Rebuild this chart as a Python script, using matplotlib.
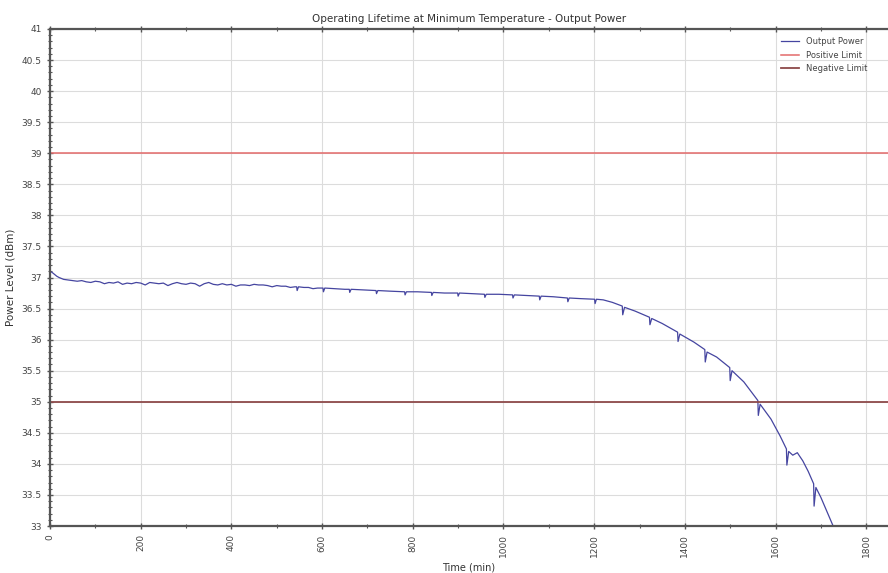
import matplotlib
matplotlib.use("Agg")
import matplotlib.pyplot as plt
from matplotlib.ticker import MultipleLocator

time_min = [
    0, 5, 10, 15, 20, 30, 40, 50, 60, 70, 80, 90, 100, 110, 120, 130, 140, 150,
    160, 170, 180, 190, 200, 210, 220, 230, 240, 250, 260, 270, 280, 290, 300,
    310, 320, 330, 340, 350, 360, 370, 380, 390, 400, 410, 420, 430, 440, 450,
    460, 470, 480, 490, 500, 510, 520, 530, 540, 544, 545, 548, 560, 570, 580,
    590, 602, 603, 606, 630, 650, 660, 661, 664, 690, 719, 720, 723, 750, 782,
    783, 786, 810, 841, 842, 845, 870, 899, 900, 903, 930, 958, 959, 962, 990,
    1020, 1021, 1024, 1050, 1079, 1080, 1083, 1110, 1141, 1142, 1145, 1170,
    1201, 1202, 1205, 1220, 1240, 1262, 1263, 1267, 1290, 1322, 1323, 1327,
    1350, 1384, 1385, 1389, 1420, 1444, 1445, 1449, 1470, 1499, 1500, 1504,
    1530, 1561, 1562, 1566, 1590, 1610, 1624, 1625, 1629, 1638, 1648, 1660,
    1672, 1684, 1685, 1689, 1700, 1714, 1727, 1735,
]
output_power = [
    37.10, 37.08, 37.05, 37.02, 37.00, 36.97, 36.96, 36.95, 36.94, 36.95, 36.93,
    36.92, 36.94, 36.93, 36.90, 36.92, 36.91, 36.93, 36.89, 36.91, 36.90, 36.92,
    36.91, 36.88, 36.92, 36.91, 36.90, 36.91, 36.87, 36.90, 36.92, 36.90, 36.89,
    36.91, 36.90, 36.86, 36.90, 36.92, 36.89, 36.88, 36.90, 36.88, 36.89, 36.86,
    36.88, 36.88, 36.87, 36.89, 36.88, 36.88, 36.87, 36.85, 36.87, 36.86, 36.86,
    36.84, 36.85, 36.85, 36.79, 36.85, 36.84, 36.84, 36.82, 36.83, 36.83, 36.77,
    36.83, 36.82, 36.81, 36.81, 36.76, 36.81, 36.80, 36.79, 36.74, 36.79, 36.78,
    36.77, 36.72, 36.77, 36.77, 36.76, 36.71, 36.76, 36.75, 36.75, 36.70, 36.75,
    36.74, 36.73, 36.68, 36.73, 36.73, 36.72, 36.67, 36.72, 36.71, 36.70, 36.64,
    36.70, 36.69, 36.67, 36.61, 36.67, 36.66, 36.65, 36.58, 36.65, 36.64, 36.60,
    36.54, 36.40, 36.52, 36.46, 36.36, 36.24, 36.34, 36.26, 36.12, 35.97, 36.09,
    35.96, 35.84, 35.64, 35.80, 35.72, 35.55, 35.34, 35.50, 35.32, 35.02, 34.78,
    34.96, 34.72, 34.45, 34.24, 33.98, 34.20, 34.14, 34.18, 34.05, 33.88, 33.68,
    33.32, 33.62, 33.46, 33.22, 33.00, 32.88,
]
positive_limit = 39.0
negative_limit = 35.0

x_ticks = [0, 200, 400, 600, 800, 1000, 1200, 1400, 1600, 1800]
y_ticks = [33, 33.5, 34, 34.5, 35, 35.5, 36, 36.5, 37, 37.5, 38, 38.5, 39, 39.5, 40, 40.5, 41]

fig = plt.figure(figsize=(8.88, 5.73), dpi=100)
ax = fig.add_axes([50 / 888, 1 - 526 / 573, 1 - 50 / 888, (526 - 29) / 573])

ax.plot(time_min, output_power, color="#4545a0", lw=0.9, label="Output Power")
ax.axhline(positive_limit, color="#e36a6a", lw=1.1, label="Positive Limit")
ax.axhline(negative_limit, color="#8e4a4a", lw=1.3, label="Negative Limit")

ax.set_xlim(0, 1848)
ax.set_ylim(33, 41)
ax.set_xticks(x_ticks)
ax.set_xticklabels([str(v) for v in x_ticks], rotation=90)
ax.set_yticks(y_ticks)
ax.set_yticklabels([f"{v:g}" for v in y_ticks])
ax.xaxis.set_minor_locator(MultipleLocator(100))
ax.yaxis.set_minor_locator(MultipleLocator(0.1))
ax.grid(True, which="major", color="#dcdcdc", lw=0.8)
ax.set_axisbelow(True)

for side in ["left", "bottom", "top"]:
    ax.spines[side].set_color("#555555")
    ax.spines[side].set_linewidth(1.6)
ax.spines["right"].set_visible(False)
ax.tick_params(axis="both", which="both", colors="#555555", labelcolor="#444444",
               labelsize=6.5, direction="inout", top=True)
ax.tick_params(axis="both", which="major", length=5, width=1)
ax.tick_params(axis="both", which="minor", length=3, width=0.8)

ax.set_title("Operating Lifetime at Minimum Temperature - Output Power",
             fontsize=7.5, color="#333333", pad=5)
ax.set_xlabel("Time (min)", fontsize=7, color="#333333", labelpad=4)
ax.set_ylabel("Power Level (dBm)", fontsize=7.5, color="#333333", labelpad=4)

leg = ax.legend(loc="upper right", frameon=False, fontsize=6, handlelength=2.2,
                borderaxespad=0.6, bbox_to_anchor=(0.985, 1.0))
for t in leg.get_texts():
    t.set_color("#444444")

fig.savefig("out.png", dpi=100)
